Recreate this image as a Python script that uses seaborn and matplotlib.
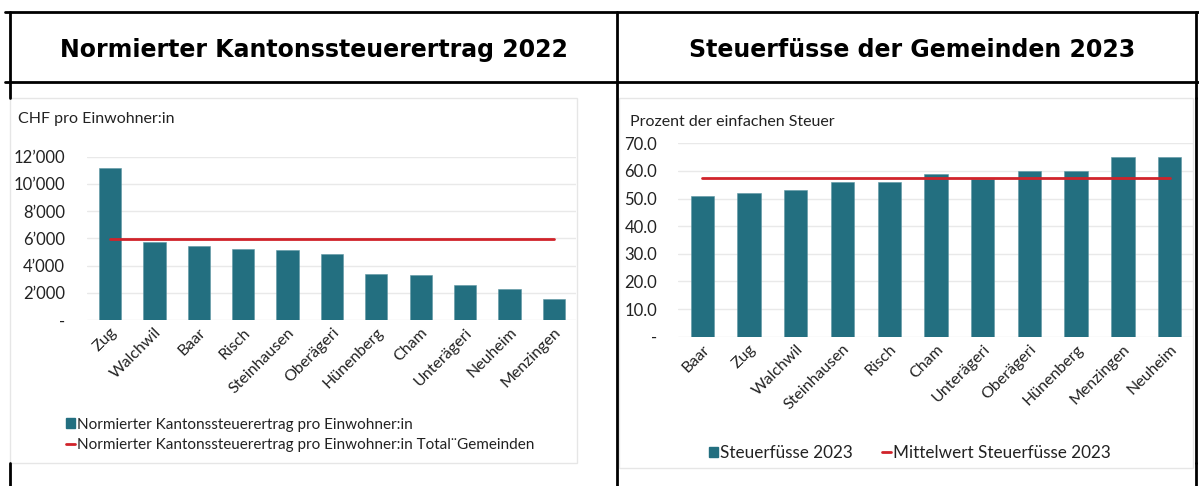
import numpy as np
import matplotlib
matplotlib.use("Agg")
import matplotlib.pyplot as plt
import seaborn as sns
from matplotlib.patches import Patch, Rectangle
from matplotlib.lines import Line2D
from matplotlib.ticker import FuncFormatter

# ---- data -------------------------------------------------------------
ertrag_gemeinden = ["Zug", "Walchwil", "Baar", "Risch", "Steinhausen", "Oberägeri",
                    "Hünenberg", "Cham", "Unterägeri", "Neuheim", "Menzingen"]
ertrag_werte = [11200, 5730, 5460, 5200, 5150, 4880, 3410, 3290, 2590, 2290, 1510]
ertrag_total = 5980

fuss_gemeinden = ["Baar", "Zug", "Walchwil", "Steinhausen", "Risch", "Cham",
                  "Unterägeri", "Oberägeri", "Hünenberg", "Menzingen", "Neuheim"]
fuss_werte = [51, 52, 53, 56, 56, 59, 57, 60, 60, 65, 65]
fuss_mittel = 57.6

titel_links = "Normierter Kantonssteuerertrag 2022"
titel_rechts = "Steuerfüsse der Gemeinden 2023"

# ---- style ------------------------------------------------------------
sns.set_style("white")
plt.rcParams["font.family"] = ["Lato", "DejaVu Sans"]

TEAL = "#236f80"
RED = "#d0232a"
GRID = "#e9e9e9"
TXT = "#222222"

W, H = 1199, 486
fig = plt.figure(figsize=(W / 100, H / 100), dpi=100)


def fx(px):
    return px / W


def fy(py):
    return 1 - py / H


def add_ax(left, top, right, bottom):
    return fig.add_axes([fx(left), fy(bottom), fx(right) - fx(left), (bottom - top) / H])


# chart background boxes (light grey frames), kept behind the axes
for (l, t, r, b) in [(10, 98, 577, 463), (619, 98, 1193, 468)]:
    fig.patches.append(Rectangle((fx(l), fy(b)), fx(r) - fx(l), (b - t) / H,
                                 transform=fig.transFigure, facecolor="white",
                                 edgecolor="#e6e6e6", linewidth=1.0, zorder=-5))


def draw_panel(ax, cats, vals, ref, ylim, yticks, fmt):
    sns.barplot(x=cats, y=vals, ax=ax, color=TEAL, saturation=1, width=0.5,
                edgecolor="#5f97a3", linewidth=0.4, zorder=2)
    n = len(cats)
    ax.plot(np.arange(n), [ref] * n, color=RED, linewidth=2, zorder=3)
    ax.set_ylim(*ylim)
    ax.set_xlim(-0.52, n - 0.5)
    ax.set_yticks(yticks)
    ax.yaxis.set_major_formatter(FuncFormatter(fmt))
    ax.grid(axis="y", color=GRID, linewidth=1)
    ax.set_axisbelow(True)
    sns.despine(ax=ax, left=True, bottom=True)
    ax.tick_params(axis="both", length=0, colors=TXT)
    ax.tick_params(axis="x", labelsize=11.5, pad=4)
    ax.tick_params(axis="y", labelsize=12)
    ax.set_xlabel("")
    ax.set_ylabel("")
    plt.setp(ax.get_xticklabels(), rotation=45, ha="right", rotation_mode="anchor")
    ax.patch.set_alpha(0)


def fmt_chf(v, pos):
    if v == 0:
        return "-"
    return f"{int(v):,}".replace(",", "\u2019")


def fmt_pct(v, pos):
    if v == 0:
        return "-"
    return f"{v:.1f}"


# left chart
axl = add_ax(87, 156.7, 576, 320)
draw_panel(axl, ertrag_gemeinden, ertrag_werte, ertrag_total, (0, 12000),
           np.arange(0, 12001, 2000), fmt_chf)
axl.tick_params(axis="y", pad=16)
fig.text(fx(18), fy(119), "CHF pro Einwohner:in", fontsize=11.5, va="center", color=TXT)
fig.legend(handles=[Patch(facecolor=TEAL, edgecolor=TEAL),
                    Line2D([0], [0], color=RED, linewidth=2)],
           labels=["Normierter Kantonssteuerertrag pro Einwohner:in",
                   "Normierter Kantonssteuerertrag pro Einwohner:in Total\u00a8Gemeinden"],
           loc="center left", bbox_to_anchor=(fx(58), fy(435)), frameon=False,
           fontsize=11, handlelength=0.6, handleheight=0.6, handletextpad=0.15,
           labelspacing=0.45, borderpad=0, labelcolor=TXT)

# right chart
axr = add_ax(678, 143.3, 1193, 336.7)
draw_panel(axr, fuss_gemeinden, fuss_werte, fuss_mittel, (0, 70),
           np.arange(0, 71, 10), fmt_pct)
axr.tick_params(axis="y", pad=15)
fig.text(fx(630), fy(122), "Prozent der einfachen Steuer", fontsize=11.5, va="center",
         color=TXT)
fig.legend(handles=[Patch(facecolor=TEAL, edgecolor=TEAL),
                    Line2D([0], [0], color=RED, linewidth=2)],
           labels=["Steuerfüsse 2023", "Mittelwert Steuerfüsse 2023"],
           loc="center left", bbox_to_anchor=(fx(700), fy(453)), frameon=False, ncol=2,
           fontsize=12.3, handlelength=0.55, handleheight=0.55, handletextpad=0.12,
           columnspacing=1.7, borderpad=0, labelcolor=TXT)

# table frame and headings
lw = 2
fig.add_artist(Line2D([fx(5), fx(1199)], [fy(12), fy(12)], color="black", linewidth=lw))
fig.add_artist(Line2D([fx(5), fx(1199)], [fy(82), fy(82)], color="black", linewidth=lw))
for xv in [10, 1196]:
    fig.add_artist(Line2D([fx(xv), fx(xv)], [fy(12), fy(98)], color="black", linewidth=lw))
    fig.add_artist(Line2D([fx(xv), fx(xv)], [fy(463), 0], color="black", linewidth=lw))
fig.add_artist(Line2D([fx(617), fx(617)], [fy(12), 0], color="black", linewidth=lw))
fig.add_artist(Line2D([fx(1196), fx(1196)], [fy(98), fy(463)], color="black", linewidth=lw))

fig.text(fx(314), fy(50), titel_links, fontsize=17, fontweight="bold",
         family="DejaVu Sans", ha="center", va="center", color="black")
fig.text(fx(912), fy(50), titel_rechts, fontsize=17, fontweight="bold",
         family="DejaVu Sans", ha="center", va="center", color="black")

fig.savefig("out.png", dpi=100)
